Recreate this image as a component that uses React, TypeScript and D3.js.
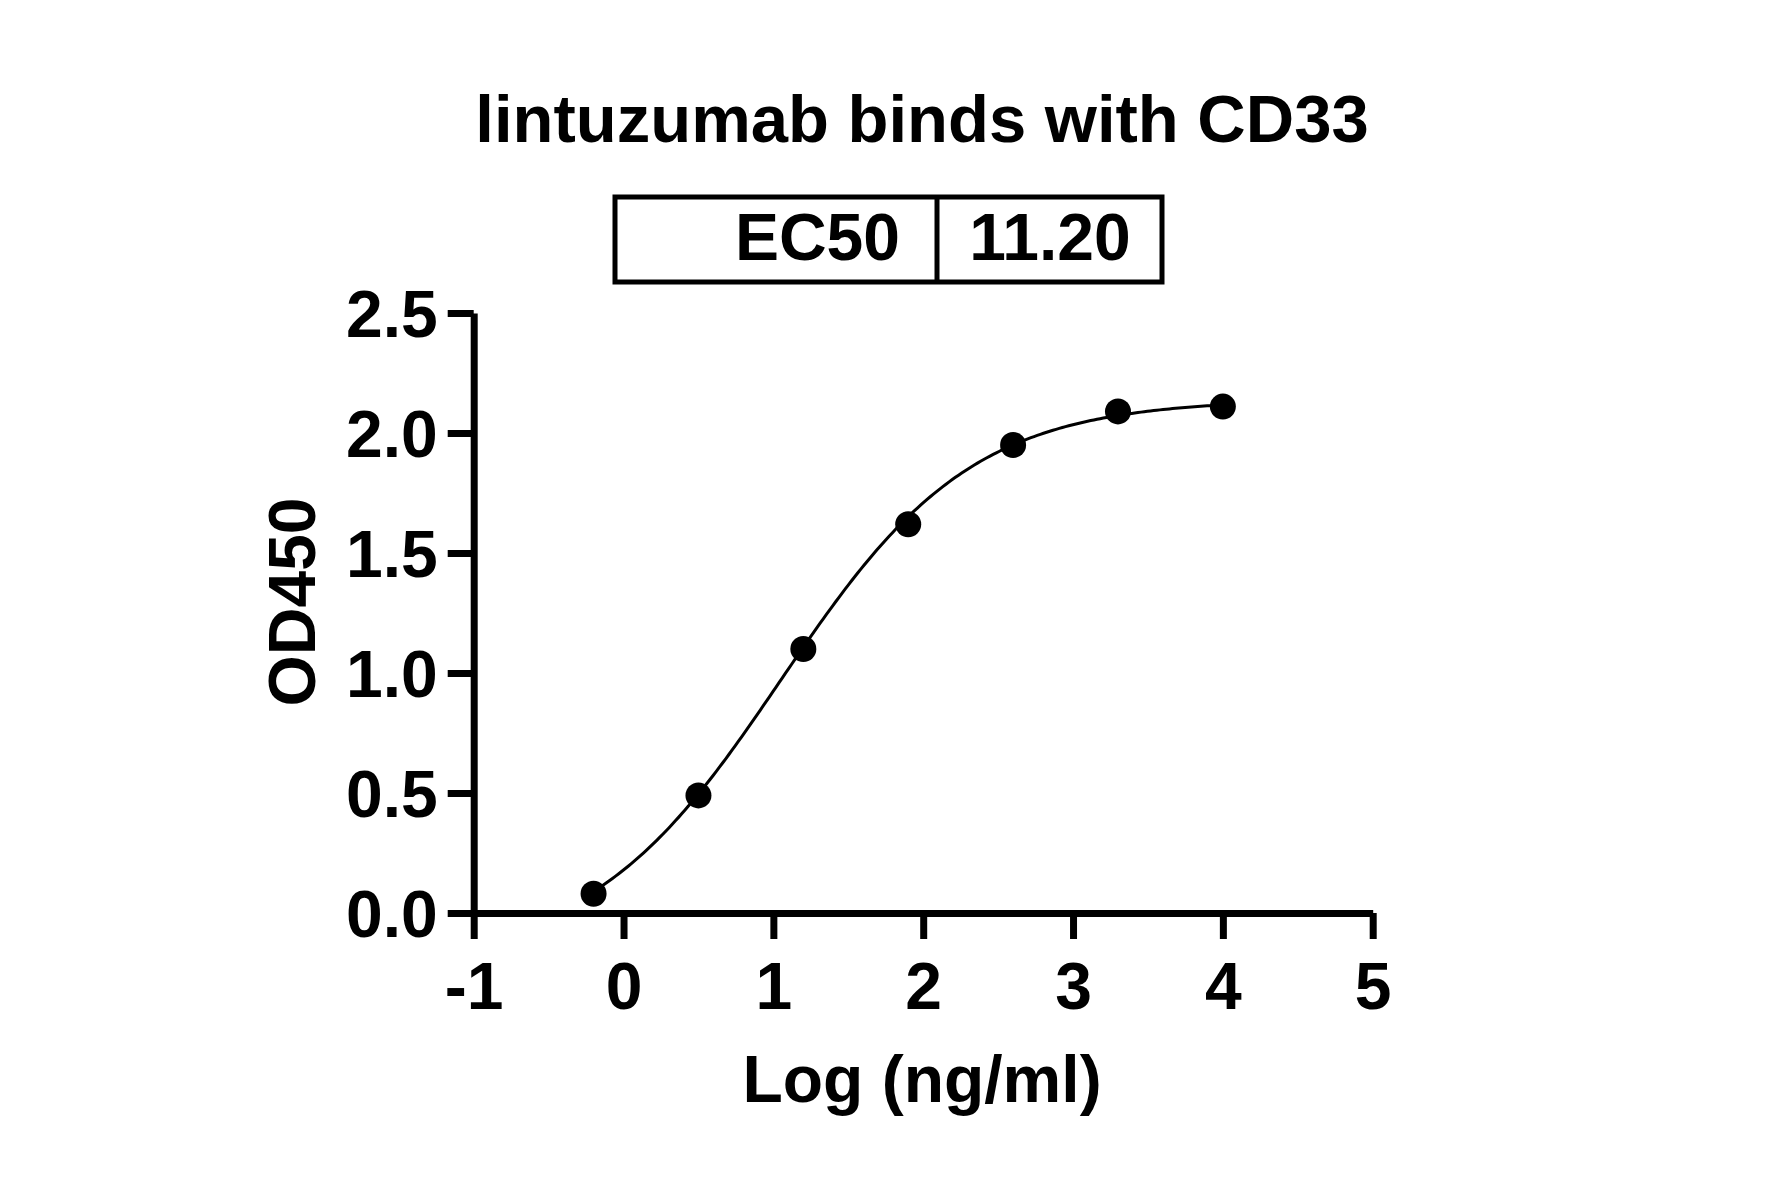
import React, { useEffect, useRef } from 'react';
import * as d3 from 'd3';

// Measured points: log10 concentration (ng/ml) vs OD450
const logConc = [-0.2, 0.5, 1.2, 1.9, 2.6, 3.3, 4.0];
const od450 = [0.08, 0.49, 1.1, 1.62, 1.95, 2.09, 2.11];

// 4PL fit parameters (EC50 as reported in the box)
const ec50 = 11.2;
const fitBottom = -0.2;
const fitTop = 2.14;
const fitHill = 0.68;

const xTicks = [-1, 0, 1, 2, 3, 4, 5];
const yTicks = [0, 0.5, 1, 1.5, 2, 2.5];

const title = 'lintuzumab binds with CD33';
const xTitle = 'Log (ng/ml)';
const yTitle = 'OD450';

const FONT = '"Liberation Sans", Arial, sans-serif';

export default function App() {
  const ref = useRef<SVGSVGElement | null>(null);

  useEffect(() => {
    if (!ref.current) return;
    const width = 1781;
    const height = 1197;
    const svg = d3.select(ref.current);
    svg.selectAll('*').remove();
    svg.attr('width', width).attr('height', height);

    svg.append('rect').attr('width', width).attr('height', height).attr('fill', '#fff');

    const x = d3.scaleLinear().domain([-1, 5]).range([473.7, 1372.7]);
    const y = d3.scaleLinear().domain([0, 2.5]).range([913, 313]);

    // Title
    svg.append('text')
      .attr('x', 922)
      .attr('y', 142)
      .attr('text-anchor', 'middle')
      .attr('font-family', FONT)
      .attr('font-weight', 'bold')
      .attr('font-size', 67)
      .text(title);

    // EC50 table
    const box = svg.append('g');
    box.append('rect')
      .attr('x', 615).attr('y', 197).attr('width', 547).attr('height', 85)
      .attr('fill', 'none').attr('stroke', '#000').attr('stroke-width', 5);
    box.append('line')
      .attr('x1', 937).attr('x2', 937).attr('y1', 197).attr('y2', 282)
      .attr('stroke', '#000').attr('stroke-width', 5);
    box.append('text')
      .attr('x', 900).attr('y', 260)
      .attr('text-anchor', 'end')
      .attr('font-family', FONT).attr('font-weight', 'bold').attr('font-size', 66)
      .text('EC50');
    box.append('text')
      .attr('x', 1050).attr('y', 260)
      .attr('text-anchor', 'middle')
      .attr('font-family', FONT).attr('font-weight', 'bold').attr('font-size', 66)
      .text(ec50.toFixed(2));

    // Axes
    const styleAxis = (g: d3.Selection<SVGGElement, unknown, null, undefined>) => {
      g.select('.domain').attr('stroke', '#000').attr('stroke-width', 7);
      g.selectAll('.tick line').attr('stroke', '#000').attr('stroke-width', 7);
      g.selectAll('.tick text')
        .attr('fill', '#000')
        .attr('font-family', FONT)
        .attr('font-weight', 'bold')
        .attr('font-size', 66);
    };

    const gx = svg.append('g')
      .attr('transform', `translate(0,${y(0)})`)
      .call(
        d3.axisBottom(x)
          .tickValues(xTicks)
          .tickSize(26)
          .tickSizeOuter(0)
          .tickPadding(23)
          .tickFormat(d => String(d))
      );
    gx.attr('font-size', null).attr('font-family', null);
    styleAxis(gx);

    const gy = svg.append('g')
      .attr('transform', `translate(${x(-1)},0)`)
      .call(
        d3.axisLeft(y)
          .tickValues(yTicks)
          .tickSize(26)
          .tickSizeOuter(0)
          .tickPadding(10)
          .tickFormat(d3.format('.1f') as any)
      );
    gy.attr('font-size', null).attr('font-family', null);
    styleAxis(gy);
    gy.selectAll('.tick text').attr('dy', '0.36em');

    // Axis titles
    svg.append('text')
      .attr('x', 922).attr('y', 1102)
      .attr('text-anchor', 'middle')
      .attr('font-family', FONT).attr('font-weight', 'bold').attr('font-size', 66)
      .text(xTitle);
    svg.append('text')
      .attr('transform', 'translate(315,602) rotate(-90)')
      .attr('text-anchor', 'middle')
      .attr('font-family', FONT).attr('font-weight', 'bold').attr('font-size', 66)
      .text(yTitle);

    // Fitted 4PL curve across the data range
    const logEc50 = Math.log10(ec50);
    const fit = (lx: number) => fitBottom + (fitTop - fitBottom) / (1 + Math.pow(10, (logEc50 - lx) * fitHill));
    const [xmin, xmax] = d3.extent(logConc) as [number, number];
    const curvePts = d3.range(0, 201).map(i => {
      const lx = xmin + (xmax - xmin) * (i / 200);
      return [lx, fit(lx)] as [number, number];
    });
    const line = d3.line<[number, number]>()
      .x(d => x(d[0]))
      .y(d => y(d[1]));
    svg.append('path')
      .attr('d', line(curvePts) || '')
      .attr('fill', 'none')
      .attr('stroke', '#000')
      .attr('stroke-width', 3);

    // Data points
    svg.selectAll('.pt')
      .data(logConc.map((lx, i) => ({ lx, v: od450[i] })))
      .enter()
      .append('circle')
      .attr('class', 'pt')
      .attr('cx', d => x(d.lx))
      .attr('cy', d => y(d.v))
      .attr('r', 13)
      .attr('fill', '#000');
  }, []);

  return (
    <svg ref={ref} style={{ position: 'absolute', left: 0, top: 0, display: 'block' }}></svg>
  );
}
